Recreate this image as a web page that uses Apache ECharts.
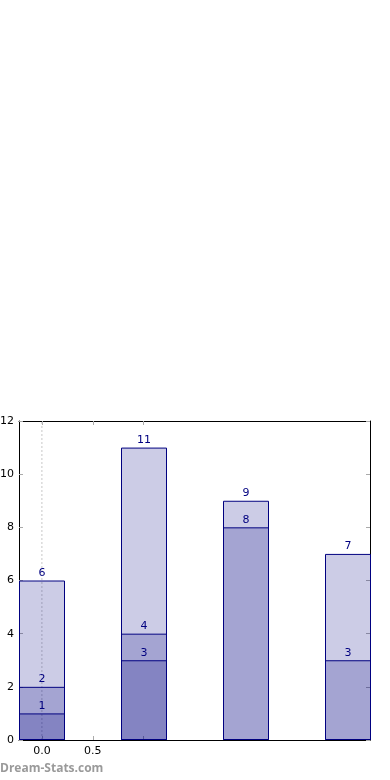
<!DOCTYPE html>
<html><head><meta charset="utf-8">
<script src="https://cdn.jsdelivr.net/npm/echarts@6/dist/echarts.min.js"></script>
<style>html,body{margin:0;padding:0;background:#fff}#c{width:390px;height:780px}</style>
</head><body><div id="c"></div>
<script>
const categories = ['0', '1', '2', '3'];
const totalVals = [6, 11, 9, 7];
const midVals = [2, 4, 8, 3];
const lowVals = [1, 3, null, null];
const yTicks = [0, 2, 4, 6, 8, 10, 12];
const xTickVals = [0, 0.5, 1];
const xLabelVals = [0, 0.5];
const gridLineX = [0];

const font = 'DejaVu Sans';
const navy = '#000080';
function mk(name, vals, z) {
  return {
    name: name, type: 'bar', xAxisIndex: 2, yAxisIndex: 2, clip: false,
    barWidth: 46, barGap: '-100%', z: z,
    data: vals.map(v => v == null ? '-' : v),
    itemStyle: { color: 'rgba(0,0,128,0.2)', borderColor: navy, borderWidth: 1 },
    label: { show: true, position: 'top', distance: 2, color: navy, fontFamily: font, fontSize: 11 },
    emphasis: { disabled: true }, animation: false
  };
}
const chart = echarts.init(document.getElementById('c'), null, { renderer: 'canvas' });
const guide = {
  type: 'line', xAxisIndex: 0, yAxisIndex: 0, symbol: 'none', silent: true, z: 1,
  color: '#c8c8c8',
  data: [[gridLineX[0], yTicks[0]], [gridLineX[0], yTicks[yTicks.length - 1]]],
  itemStyle: { color: '#c8c8c8' },
  lineStyle: { color: '#c8c8c8', type: [2, 2], width: 1 }, animation: false
};
const frameX = (pos, labels) => ({
  type: 'value', gridIndex: 0, min: -0.225, max: 3.225, position: pos,
  axisLine: { show: true, onZero: false, lineStyle: { color: '#000', width: 1 } },
  axisTick: { show: true, inside: true, length: 4, customValues: xTickVals, lineStyle: { color: '#aaa' } },
  axisLabel: labels ? { customValues: xLabelVals, formatter: v => v.toFixed(1), color: '#000', fontFamily: font, fontSize: 11, margin: 6 } : { show: false },
  splitLine: { show: false }
});
chart.setOption({
  animation: false,
  grid: [
    { left: 19, right: 20, top: 421, bottom: 40, outerBoundsMode: 'none', containLabel: false },
    { left: 42, right: 42, top: 421, bottom: 40, outerBoundsMode: 'none', containLabel: false }
  ],
  xAxis: [frameX('bottom', true), frameX('top', false), {
    type: 'category', gridIndex: 1, data: categories, boundaryGap: false, show: false
  }],
  yAxis: [{
    type: 'value', gridIndex: 0, min: 0, max: 12, interval: 2, position: 'left',
    axisLine: { show: true, onZero: false, lineStyle: { color: '#000', width: 1 } },
    axisTick: { show: true, inside: true, length: 4, lineStyle: { color: '#aaa' } },
    axisLabel: { color: '#000', fontFamily: font, fontSize: 11, margin: 5 },
    splitLine: { show: false }
  }, {
    type: 'value', gridIndex: 0, min: 0, max: 12, interval: 2, position: 'right',
    axisLine: { show: true, onZero: false, lineStyle: { color: '#000', width: 1 } },
    axisTick: { show: true, inside: true, length: 4, lineStyle: { color: '#aaa' } },
    axisLabel: { show: false }, splitLine: { show: false }
  }, {
    type: 'value', gridIndex: 1, min: 0, max: 12, show: false
  }],
  graphic: [{ type: 'text', left: 0, top: 763, style: { text: 'Dream-Stats.com', fill: '#9a9a9a', font: 'bold 12px "Open Sans"' } }],
  series: [guide, mk('total', totalVals, 2), mk('mid', midVals, 3), mk('low', lowVals, 4)]
});
</script></body></html>
